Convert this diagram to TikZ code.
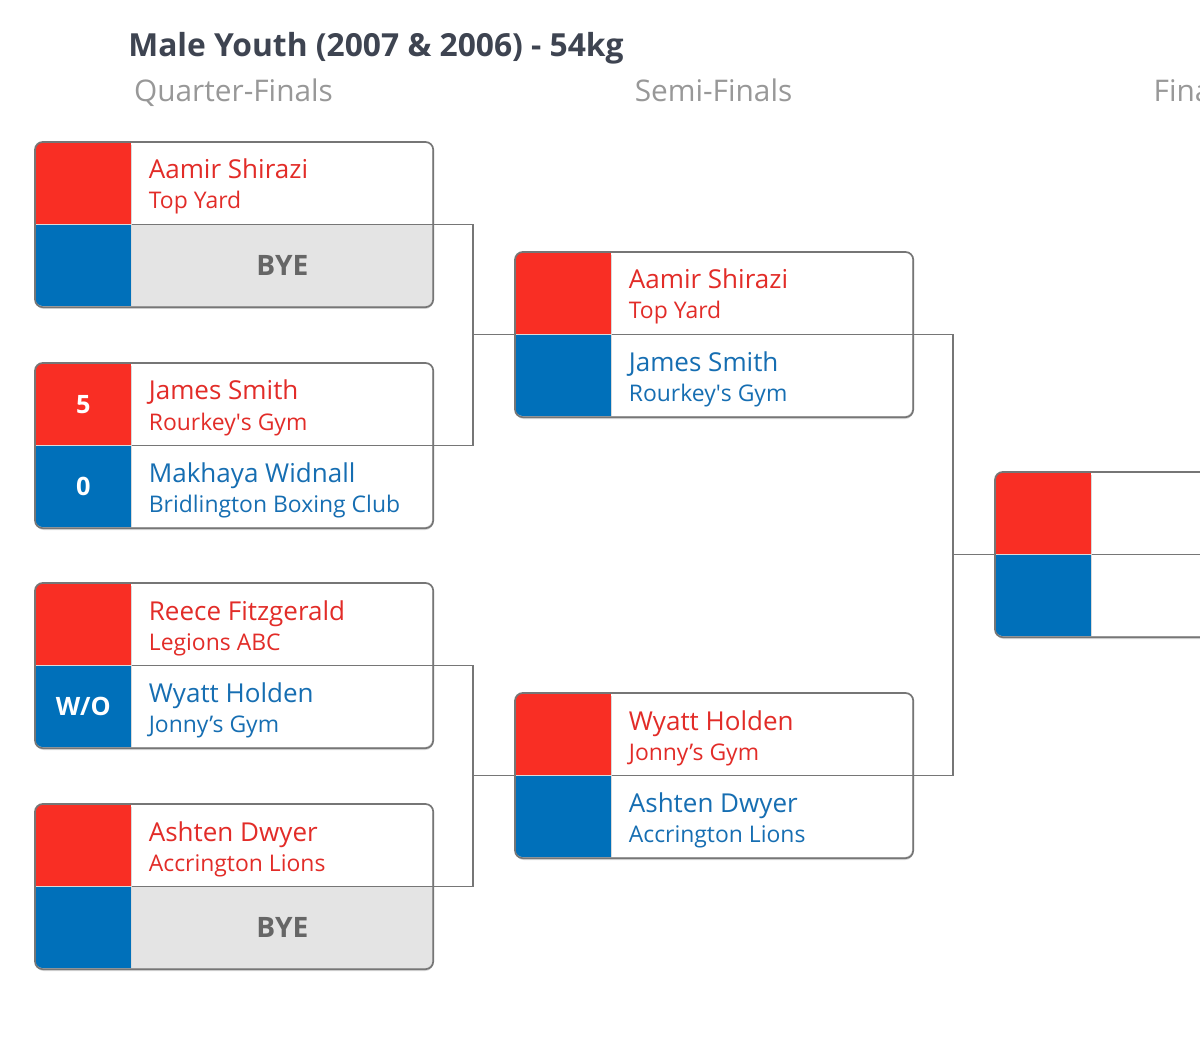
\documentclass[tikz,border=0pt]{standalone}
\usepackage{fontspec}
\setmainfont{Open Sans}
\usetikzlibrary{positioning,calc}

\definecolor{cornerred}{RGB}{249,46,36}
\definecolor{cornerblue}{RGB}{0,112,186}
\definecolor{namered}{RGB}{226,44,40}
\definecolor{nameblue}{RGB}{22,110,178}
\definecolor{framegray}{RGB}{118,118,118}
\definecolor{byegray}{RGB}{228,228,228}
\definecolor{byetext}{RGB}{102,102,102}
\definecolor{titlegray}{RGB}{62,68,81}
\definecolor{headgray}{RGB}{152,152,152}

\tikzset{
  redsq/.style={fill=cornerred, minimum width=2.4cm, minimum height=2.05cm,
    inner sep=0pt, text=white, font=\bfseries\fontsize{18}{18}\selectfont},
  bluesq/.style={redsq, fill=cornerblue},
  cell/.style={fill=white, minimum width=7.525cm, minimum height=2.05cm, inner sep=0pt},
  byecell/.style={cell, fill=byegray},
  frame/.style={draw=framegray, line width=1.2pt},
  link/.style={draw=framegray, line width=1.2pt},
  rname/.style={anchor=base west, inner sep=0pt, text=namered, font=\fontsize{18.5}{18.5}\selectfont},
  rclub/.style={rname, font=\fontsize{16.3}{16.3}\selectfont},
  bname/.style={rname, text=nameblue},
  bclub/.style={rclub, text=nameblue},
  byetag/.style={text=byetext, font=\bfseries\fontsize{20}{20}\selectfont},
  title/.style={anchor=base west, inner sep=0pt, text=titlegray, font=\bfseries\fontsize{22.6}{22.6}\selectfont},
  head/.style={anchor=base, inner sep=0pt, text=headgray, font=\fontsize{21.2}{21.2}\selectfont}
}

% one bout: [blue cell style]{id}{x}{y}{red score}{blue score}
\newcommand{\bout}[6][cell]{%
  \fill[black, opacity=.15, rounded corners=5.5pt] ($(#3,#4)+(1,-3)$) rectangle ++(397,-164);
  \begin{scope}
    \clip[rounded corners=5.5pt] (#3,#4) rectangle ++(397,-164);
    \node[redsq, anchor=north west] (#2r) at (#3,#4) {#5};
    \node[bluesq, below=0pt of #2r] (#2b) {#6};
    \node[cell, right=0pt of #2r] (#2rc) {};
    \node[#1, right=0pt of #2b] (#2bc) {};
  \end{scope}
  \draw[frame, rounded corners=5.5pt] (#2r.north west) rectangle (#2bc.south east);
  \draw[frame] (#2rc.south west) -- (#2rc.south east);
}

\begin{document}
\begin{tikzpicture}[x=0.025cm, y=0.025cm]
  \useasboundingbox (0,0) rectangle (1200,-1049);
  \clip (0,0) rectangle (1200,-1049);
  \fill[white] (0,0) rectangle (1200,-1049);

  % headings
  \node[title] (ttl) at (128,-57) {Male Youth (2007 \& 2006) - 54kg};
  \node[head] (hqf) at (233.5,-102) {Quarter-Finals};
  \node[head] (hsf) at (713.5,-102) {Semi-Finals};
  \node[head] (hfn) at (1193.5,-102) {Finals};

  % quarter-finals
  \bout[byecell]{q1}{35}{-142}{}{}
  \node[rname] (q1rn) at ($(q1rc.north west)+(17,-37)$) {Aamir Shirazi};
  \node[rclub] (q1rk) at ($(q1rc.north west)+(17,-67)$) {Top Yard};
  \node[byetag] (q1bye) at (q1bc) {BYE};

  \bout{q2}{35}{-363}{5}{0}
  \node[rname] (q2rn) at ($(q2rc.north west)+(17,-37)$) {James Smith};
  \node[rclub] (q2rk) at ($(q2rc.north west)+(17,-67)$) {Rourkey\textquotesingle s Gym};
  \node[bname] (q2bn) at ($(q2bc.north west)+(17,-37)$) {Makhaya Widnall};
  \node[bclub] (q2bk) at ($(q2bc.north west)+(17,-67)$) {Bridlington Boxing Club};

  \bout{q3}{35}{-583}{}{W/O}
  \node[rname] (q3rn) at ($(q3rc.north west)+(17,-37)$) {Reece Fitzgerald};
  \node[rclub] (q3rk) at ($(q3rc.north west)+(17,-67)$) {Legions ABC};
  \node[bname] (q3bn) at ($(q3bc.north west)+(17,-37)$) {Wyatt Holden};
  \node[bclub] (q3bk) at ($(q3bc.north west)+(17,-67)$) {Jonny’s Gym};

  \bout[byecell]{q4}{35}{-804}{}{}
  \node[rname] (q4rn) at ($(q4rc.north west)+(17,-37)$) {Ashten Dwyer};
  \node[rclub] (q4rk) at ($(q4rc.north west)+(17,-67)$) {Accrington Lions};
  \node[byetag] (q4bye) at (q4bc) {BYE};

  % semi-finals
  \bout{s1}{515}{-252}{}{}
  \node[rname] (s1rn) at ($(s1rc.north west)+(17,-37)$) {Aamir Shirazi};
  \node[rclub] (s1rk) at ($(s1rc.north west)+(17,-67)$) {Top Yard};
  \node[bname] (s1bn) at ($(s1bc.north west)+(17,-37)$) {James Smith};
  \node[bclub] (s1bk) at ($(s1bc.north west)+(17,-67)$) {Rourkey\textquotesingle s Gym};

  \bout{s2}{515}{-693}{}{}
  \node[rname] (s2rn) at ($(s2rc.north west)+(17,-37)$) {Wyatt Holden};
  \node[rclub] (s2rk) at ($(s2rc.north west)+(17,-67)$) {Jonny’s Gym};
  \node[bname] (s2bn) at ($(s2bc.north west)+(17,-37)$) {Ashten Dwyer};
  \node[bclub] (s2bk) at ($(s2bc.north west)+(17,-67)$) {Accrington Lions};

  % final
  \bout{f1}{995}{-472}{}{}

  % links
  \draw[link] (q1rc.south east) -- ++(40,0) coordinate (j1) |- (q2rc.south east);
  \draw[link] (j1 |- s1rc.south west) -- (s1b.north west);
  \draw[link] (q3rc.south east) -- ++(40,0) coordinate (j2) |- (q4rc.south east);
  \draw[link] (j2 |- s2rc.south west) -- (s2b.north west);
  \draw[link] (s1rc.south east) -- ++(40,0) coordinate (j3) |- (s2rc.south east);
  \draw[link] (j3 |- f1rc.south west) -- (f1b.north west);
\end{tikzpicture}
\end{document}
